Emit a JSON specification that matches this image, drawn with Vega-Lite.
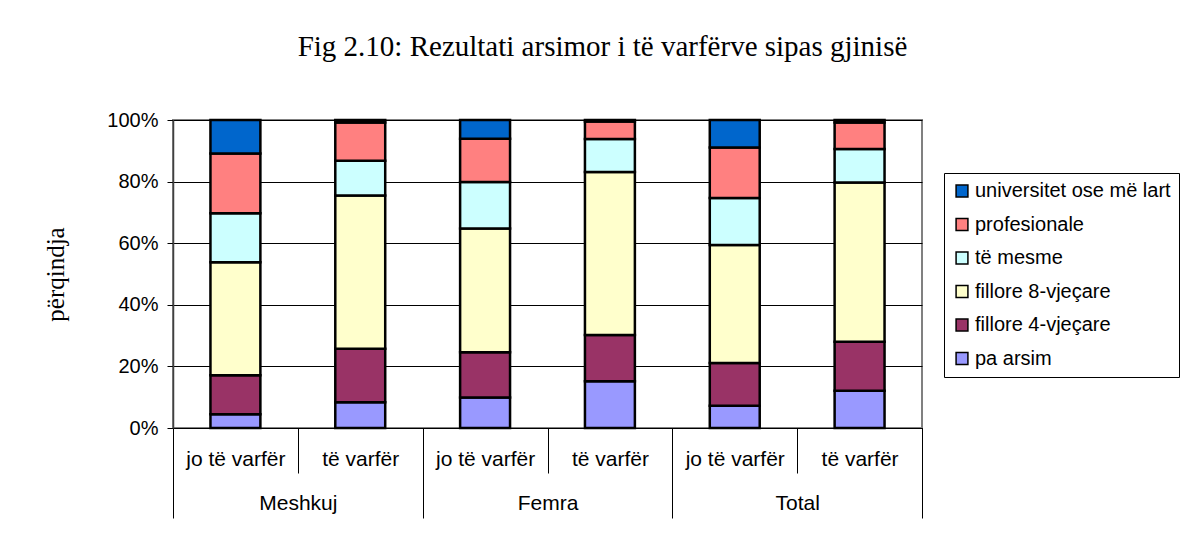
{
  "$schema": "https://vega.github.io/schema/vega-lite/v6.json",
  "width": 749,
  "height": 308,
  "autosize": {"type": "none"},
  "padding": {"left": 173, "top": 120, "right": 265, "bottom": 109},
  "background": "white",
  "title": {
    "text": "Fig 2.10: Rezultati arsimor i të varfërve sipas gjinisë",
    "font": "Liberation Serif",
    "fontSize": 29,
    "fontWeight": "normal",
    "color": "black",
    "anchor": "middle",
    "frame": "group",
    "dx": 55,
    "offset": 48
  },
  "data": {
    "values": [
      {"grupi": "Meshkuj", "statusi": "jo të varfër", "kat": "Meshkuj – jo të varfër", "pa arsim": 4.5, "fillore 4-vjeçare": 12.6, "fillore 8-vjeçare": 36.7, "të mesme": 15.9, "profesionale": 19.4, "universitet ose më lart": 10.9},
      {"grupi": "Meshkuj", "statusi": "të varfër", "kat": "Meshkuj – të varfër", "pa arsim": 8.4, "fillore 4-vjeçare": 17.3, "fillore 8-vjeçare": 49.8, "të mesme": 11.3, "profesionale": 12.4, "universitet ose më lart": 0.8},
      {"grupi": "Femra", "statusi": "jo të varfër", "kat": "Femra – jo të varfër", "pa arsim": 9.9, "fillore 4-vjeçare": 14.7, "fillore 8-vjeçare": 40.2, "të mesme": 15.1, "profesionale": 14.0, "universitet ose më lart": 6.1},
      {"grupi": "Femra", "statusi": "të varfër", "kat": "Femra – të varfër", "pa arsim": 15.2, "fillore 4-vjeçare": 15.0, "fillore 8-vjeçare": 52.9, "të mesme": 10.7, "profesionale": 5.7, "universitet ose më lart": 0.5},
      {"grupi": "Total", "statusi": "jo të varfër", "kat": "Total – jo të varfër", "pa arsim": 7.2, "fillore 4-vjeçare": 13.9, "fillore 8-vjeçare": 38.3, "të mesme": 15.3, "profesionale": 16.4, "universitet ose më lart": 8.9},
      {"grupi": "Total", "statusi": "të varfër", "kat": "Total – të varfër", "pa arsim": 12.1, "fillore 4-vjeçare": 15.9, "fillore 8-vjeçare": 51.7, "të mesme": 10.9, "profesionale": 8.6, "universitet ose më lart": 0.8}
    ]
  },
  "layer": [
    {
      "transform": [
        {"fold": ["pa arsim", "fillore 4-vjeçare", "fillore 8-vjeçare", "të mesme", "profesionale", "universitet ose më lart"], "as": ["niveli", "vlera"]},
        {"calculate": "indexof(['pa arsim', 'fillore 4-vjeçare', 'fillore 8-vjeçare', 'të mesme', 'profesionale', 'universitet ose më lart'], datum.niveli)", "as": "rendi"}
      ],
      "mark": {"type": "bar", "width": {"band": 0.4}, "stroke": "black", "strokeWidth": 2.5},
      "encoding": {
        "x": {
          "field": "kat",
          "type": "nominal",
          "sort": null,
          "scale": {"paddingInner": 0, "paddingOuter": 0},
          "axis": {
            "orient": "bottom",
            "title": null,
            "tickBand": "extent",
            "tickSize": 45,
            "tickColor": "black",
            "tickWidth": 1,
            "domainColor": "black",
            "domainWidth": 1,
            "grid": false,
            "labelAngle": 0,
            "labelFont": "Liberation Sans",
            "labelFontSize": 21,
            "labelColor": "black",
            "labelBaseline": "alphabetic",
            "labelPadding": -8,
            "labelExpr": "slice(datum.label, indexof(datum.label, '–') + 2)"
          }
        },
        "y": {
          "field": "vlera",
          "type": "quantitative",
          "stack": "normalize",
          "scale": {"domain": [0, 1], "nice": false},
          "axis": {
            "title": "përqindja",
            "titleFont": "Liberation Serif",
            "titleFontSize": 25,
            "titleFontWeight": "normal",
            "titleColor": "black",
            "titlePadding": 38,
            "values": [0, 0.2, 0.4, 0.6, 0.8, 1],
            "format": ".0%",
            "labelFont": "Liberation Sans",
            "labelFontSize": 20,
            "labelColor": "black",
            "labelPadding": 9,
            "tickSize": 6,
            "tickColor": "black",
            "domainColor": "#404040",
            "domainWidth": 1.5,
            "grid": true,
            "gridColor": "black",
            "gridWidth": 1
          }
        },
        "order": {"field": "rendi", "type": "quantitative", "sort": "ascending"},
        "color": {
          "field": "niveli",
          "type": "nominal",
          "sort": ["universitet ose më lart", "profesionale", "të mesme", "fillore 8-vjeçare", "fillore 4-vjeçare", "pa arsim"],
          "scale": {
            "domain": ["universitet ose më lart", "profesionale", "të mesme", "fillore 8-vjeçare", "fillore 4-vjeçare", "pa arsim"],
            "range": ["#0066CC", "#FF8080", "#CCFFFF", "#FFFFCC", "#993366", "#9999FF"]
          },
          "legend": {
            "title": null,
            "orient": "none",
            "legendX": 771,
            "legendY": 53,
            "strokeColor": "black",
            "padding": 8,
            "symbolType": "square",
            "symbolSize": 140,
            "symbolStrokeColor": "black",
            "symbolStrokeWidth": 1.5,
            "symbolOpacity": 1,
            "labelFont": "Liberation Sans",
            "labelFontSize": 20,
            "labelColor": "black",
            "labelLimit": 400,
            "labelOffset": 3,
            "rowPadding": 13.5
          }
        }
      }
    },
    {
      "mark": {"type": "bar", "opacity": 0},
      "encoding": {
        "x": {
          "field": "grupi",
          "type": "nominal",
          "sort": null,
          "scale": {"paddingInner": 0, "paddingOuter": 0},
          "axis": {
            "orient": "bottom",
            "title": null,
            "tickBand": "extent",
            "tickSize": 90,
            "tickColor": "black",
            "tickWidth": 1,
            "domainColor": "black",
            "grid": false,
            "labelAngle": 0,
            "labelFont": "Liberation Sans",
            "labelFontSize": 21,
            "labelColor": "black",
            "labelBaseline": "alphabetic",
            "labelPadding": -9
          }
        }
      }
    }
  ],
  "resolve": {"scale": {"x": "independent"}},
  "config": {
    "view": {"stroke": "#808080", "strokeWidth": 2}
  }
}
